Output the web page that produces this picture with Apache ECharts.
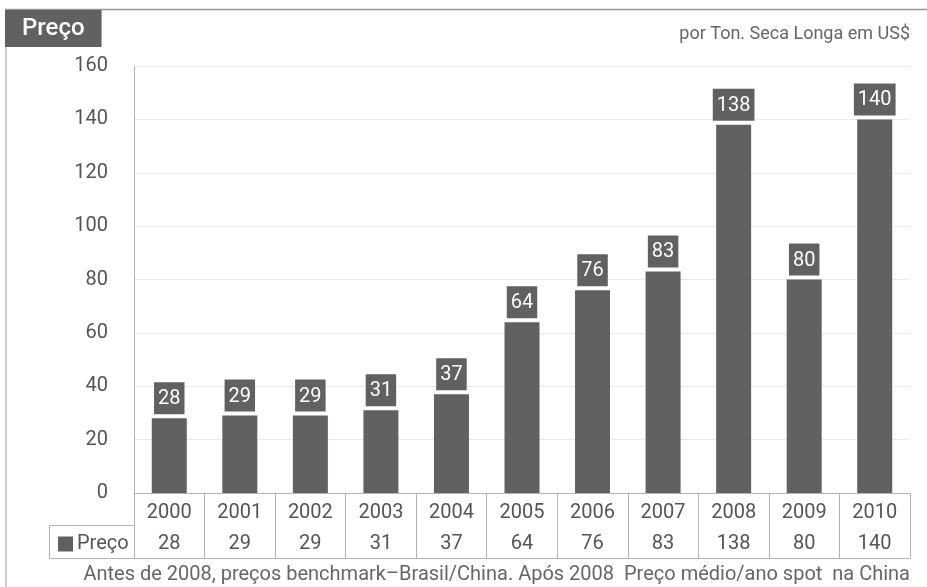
<!DOCTYPE html>
<html><head><meta charset="utf-8">
<script src="https://cdn.jsdelivr.net/npm/echarts@6/dist/echarts.min.js"></script>
<style>html,body{margin:0;padding:0;background:#fff}#c{width:927px;height:587px}</style>
</head><body><div id="c"></div>
<script>
const years = ['2000','2001','2002','2003','2004','2005','2006','2007','2008','2009','2010'];
const precos = [28,29,29,31,37,64,76,83,138,80,140];
const yTicks = {min:0, max:160, interval:20};
const seriesName = 'Preço';
const titleText = 'Preço';
const unitText = 'por Ton. Seca Longa em US$';
const noteText = 'Antes de 2008, preços benchmark–Brasil/China. Após 2008  Preço médio/ano spot  na China';

const FONT = 'Roboto, "DejaVu Sans", sans-serif';
const BAR = '#636064';
const LINE = '#b4b4b4';
const TXT = '#555';

const chart = echarts.init(document.getElementById('c'));
chart.setOption({
  animation:false,
  textStyle:{fontFamily:FONT},
  title:[
    {text:titleText,left:5,top:10,backgroundColor:BAR,padding:[7,17,6,17],
     textStyle:{color:'#fff',fontSize:24,fontWeight:500,fontFamily:FONT,lineHeight:24}},
    {text:unitText,right:17,top:25,padding:0,
     textStyle:{color:'#666',fontSize:18,fontWeight:'normal',fontFamily:FONT}},
    {text:noteText,right:17,top:565,padding:0,
     textStyle:{color:'#666',fontSize:20,fontWeight:'normal',fontFamily:FONT}}
  ],
  legend:{data:[seriesName],left:58,top:534,icon:'rect',itemWidth:15,itemHeight:15,itemGap:4,padding:0,
    textStyle:{color:TXT,fontSize:20,fontFamily:FONT,padding:[0,0,0,-1]}},
  grid:[
    {left:134,right:17,top:66,bottom:94,containLabel:false},
    {left:134,right:17,top:525,height:33,containLabel:false}
  ],
  xAxis:[
    {type:'category',gridIndex:0,data:years,boundaryGap:true,
     axisLine:{lineStyle:{color:LINE,width:1}},
     axisTick:{show:true,length:65,lineStyle:{color:LINE}},
     axisLabel:{color:TXT,fontSize:20,margin:10,fontFamily:FONT}},
    {type:'category',gridIndex:1,position:'top',data:precos.map(String),boundaryGap:true,
     axisLine:{show:true,lineStyle:{color:LINE}},
     axisTick:{show:false},
     axisLabel:{inside:true,color:TXT,fontSize:20,margin:9,fontFamily:FONT}},
    {type:'category',gridIndex:1,position:'bottom',data:years,boundaryGap:true,
     axisLine:{show:true,lineStyle:{color:LINE}},
     axisTick:{show:false},axisLabel:{show:false}}
  ],
  yAxis:[
    {type:'value',gridIndex:0,min:yTicks.min,max:yTicks.max,interval:yTicks.interval,
     axisLine:{show:true,lineStyle:{color:LINE}},axisTick:{show:false},
     splitLine:{lineStyle:{color:'#e8e8e8'}},
     axisLabel:{color:TXT,fontSize:20,margin:26,fontFamily:FONT}},
    {type:'value',gridIndex:1,show:false}
  ],
  series:[{
    name:seriesName,type:'bar',xAxisIndex:0,yAxisIndex:0,data:precos,barWidth:35,
    itemStyle:{color:BAR},
    label:{show:true,position:'top',distance:4,color:'#fff',backgroundColor:BAR,
      fontSize:20,fontFamily:FONT,padding:[7,4,5,4]}
  }],
  graphic:[
    {type:'line',shape:{x1:5,y1:9.5,x2:927,y2:9.5},style:{stroke:'#999',lineWidth:1.5},silent:true},
    {type:'line',shape:{x1:6,y1:47,x2:6,y2:587},style:{stroke:'#999',lineWidth:1},silent:true},
    {type:'line',shape:{x1:49,y1:525.5,x2:134,y2:525.5},style:{stroke:LINE,lineWidth:1},silent:true},
    {type:'line',shape:{x1:49,y1:558.5,x2:134,y2:558.5},style:{stroke:LINE,lineWidth:1},silent:true},
    {type:'line',shape:{x1:49.5,y1:525,x2:49.5,y2:559},style:{stroke:LINE,lineWidth:1},silent:true}
  ]
});
</script></body></html>
